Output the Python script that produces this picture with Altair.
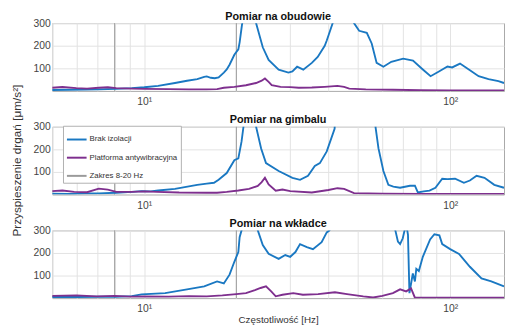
import altair as alt
import pandas as pd

# ---------------- data ----------------
panel_titles = ["Pomiar na obudowie", "Pomiar na gimbalu", "Pomiar na wkładce"]
series_names = ["Brak izolacji", "Platforma antywibracyjna", "Zakres 8-20 Hz"]
y_title = "Przyspieszenie drgań [μm/s²]"
x_title = "Częstotliwość [Hz]"
range_f = [8, 20]
x_grid = [5, 6, 7, 8, 9, 10, 20, 30, 40, 50, 60, 70, 80, 90, 100]
y_ticks = [100, 200, 300]

# Panel 1 - obudowa
p1_blue_f = [5.0, 5.7, 6.4, 7.1, 8.1, 9.1, 10.0, 11.1, 12.6, 13.8, 14.9, 15.7, 16.0, 16.5, 17.0, 17.5, 18.2, 18.6, 19.0, 19.7,
             20.3, 20.5, 20.9, 22.0, 22.6, 23.2, 24.4, 25.5, 27.5, 29.6, 30.5, 31.6, 33.1, 35.3, 36.9, 38.9, 39.5, 41.3, 42.5, 44.5,
             47.0, 48.5, 50.4, 53.4, 55.4, 57.5, 60.5, 64.2, 70.2, 75.6, 81.4, 86.3, 92.2, 98.0, 101.5, 107.7, 115.1, 123.9, 133.5, 143.8, 150.0]
p1_blue_v = [4, 5, 6, 7, 9, 12, 16, 22, 35, 45, 52, 62, 64, 58, 56, 60, 81, 95, 116, 160,
             184, 215, 300, 2000, 1500, 300, 193, 137, 94, 81, 86, 107, 94, 124, 150, 200, 223, 300, 600, 1500,
             600, 300, 266, 257, 210, 124, 107, 129, 143, 134, 95, 65, 87, 108, 104, 121, 95, 65, 52, 43, 35]
p1_pur_f = [5.0, 5.4, 6.0, 6.5, 7.1, 7.6, 8.1, 9.1, 10.0, 12.0, 14.0, 16.0, 17.3, 18.2, 19.7, 21.5, 23.2, 24.2, 24.8, 25.5,
            26.1, 27.9, 30.0, 32.0, 35.3, 38.9, 42.8, 45.0, 46.8, 53.0, 65.0, 80.0, 100.0, 150.0]
p1_pur_v = [14, 17, 12, 10, 14, 16, 12, 10, 9, 8, 7, 7, 8, 14, 18, 25, 35, 45, 55, 40,
            25, 18, 17, 14, 15, 18, 22, 18, 10, 7, 5, 3, 2, 2]

# Panel 2 - gimbal
p2_blue_f = [5.0, 5.7, 6.4, 7.1, 8.1, 9.1, 9.8, 10.5, 11.1, 12.6, 14.9, 16.0, 16.9, 17.5, 18.6, 19.7, 20.3, 20.8, 21.1, 22.0,
             22.6, 23.2, 24.1, 25.0, 27.5, 30.5, 32.3, 34.3, 36.1, 37.5, 39.5, 41.9, 43.0, 50.0, 55.0, 57.0, 58.3, 60.5, 62.8, 65.2,
             68.6, 73.9, 76.7, 78.4, 82.0, 85.6, 89.5, 94.2, 98.0, 103.8, 110.9, 116.0, 122.0, 129.5, 139.4, 150.0]
p2_blue_v = [4, 3, 5, 5, 8, 12, 15, 14, 18, 25, 43, 48, 52, 65, 95, 152, 160, 235, 300, 1800,
             1200, 300, 204, 139, 104, 74, 65, 83, 126, 139, 191, 291, 600, 2000, 700, 300, 204, 104, 43, 35,
             30, 39, 39, 9, 14, 17, 30, 70, 68, 70, 52, 62, 83, 74, 43, 30]
p2_pur_f = [5.0, 5.4, 5.9, 6.5, 7.1, 7.6, 8.1, 9.1, 10.0, 11.0, 13.0, 16.0, 17.3, 18.6, 20.3, 22.0, 23.5, 24.2, 24.8, 25.5,
            26.9, 28.3, 30.0, 35.3, 40.0, 42.8, 45.0, 48.5, 60.0, 80.0, 100.0, 150.0]
p2_pur_v = [15, 18, 12, 10, 26, 22, 12, 12, 14, 12, 9, 8, 8, 12, 18, 25, 38, 55, 74, 45,
            17, 22, 15, 9, 20, 28, 25, 6, 4, 3, 3, 3]

# Panel 3 - wkładka
p3_blue_f = [5.0, 6.0, 7.1, 8.1, 9.1, 9.8, 11.7, 13.8, 15.7, 17.3, 18.2, 19.0, 19.7, 20.3, 20.5, 20.8, 21.5, 22.8, 23.5, 24.4,
             25.5, 27.5, 28.9, 30.0, 31.2, 32.3, 34.0, 35.6, 38.0, 39.5, 40.3, 45.0, 55.0, 62.0, 66.2, 67.5, 68.6, 70.0, 71.8, 72.8,
             73.6, 75.5, 76.7, 77.5, 79.0, 81.4, 86.0, 88.8, 92.2, 94.2, 100.0, 106.9, 116.0, 126.6, 136.3, 150.0]
p3_blue_v = [5, 5, 6, 6, 9, 17, 22, 39, 52, 74, 65, 104, 161, 204, 270, 300, 1500, 1000, 300, 235,
             196, 174, 191, 183, 204, 239, 226, 217, 248, 291, 300, 800, 1200, 700, 300, 250, 239, 265, 330, 280,
             22, 109, 74, 130, 120, 183, 260, 283, 278, 239, 217, 196, 139, 87, 74, 52]
p3_pur_f = [5.0, 6.0, 7.0, 8.0, 9.0, 10.0, 12.0, 14.0, 16.0, 18.0, 20.0, 21.5, 23.0, 24.0, 25.0, 26.0, 26.9, 28.3, 30.7, 33.0,
            37.0, 42.0, 46.0, 52.0, 56.0, 60.0, 65.0, 68.6, 71.8, 74.5, 76.7, 80.0, 100.0, 150.0]
p3_pur_v = [10, 12, 8, 10, 7, 8, 7, 9, 8, 12, 18, 22, 35, 45, 52, 30, 8, 15, 22, 15,
            18, 26, 18, 8, 3, 10, 22, 39, 30, 43, 2, 2, 2, 2]

# ---------------- style ----------------
FONT = "Liberation Sans"
COLORS = ["#1a78c2", "#7e2f8e", "#9a9a9a"]
W, H = 460, 69


def panel(title, bf, bv, pf, pv, show_legend, show_ytitle, show_xtitle):
    df = pd.DataFrame({
        "f": bf + pf,
        "v": bv + pv,
        "series": [series_names[0]] * len(bf) + [series_names[1]] * len(pf),
    })
    rules = pd.DataFrame({"f": range_f, "series": [series_names[2]] * len(range_f)})

    xscale = alt.Scale(type="log", domain=[5, 150], nice=False)
    yscale = alt.Scale(domain=[0, 300], nice=False)
    xaxis = alt.Axis(values=x_grid, grid=True, ticks=False, domain=False,
                     labelExpr="datum.value == 10 ? '10¹' : (datum.value == 100 ? '10²' : '')",
                     labelPadding=6, titlePadding=0.5)
    yaxis = alt.Axis(values=y_ticks, grid=True, ticks=False, domain=False, labelPadding=2)

    if show_legend:
        legend = alt.Legend(orient="none", legendX=11, legendY=-1,
                            symbolType="stroke", symbolSize=400, symbolStrokeWidth=2,
                            labelFontSize=8, labelFont=FONT, labelColor="#333333", labelLimit=300,
                            padding=3, rowPadding=3.5, labelOffset=2,
                            strokeColor="#b0b0b0", fillColor="white")
    else:
        legend = None

    color = alt.Color("series:N", scale=alt.Scale(domain=series_names, range=COLORS),
                      legend=legend, title=None)

    x_enc = alt.X("f:Q", scale=xscale, axis=xaxis, title=x_title if show_xtitle else None)
    y_enc = alt.Y("v:Q", scale=yscale, axis=yaxis, title=None)

    rule = alt.Chart(rules).mark_rule(strokeWidth=1).encode(x=x_enc, color=color)
    lines = alt.Chart(df).mark_line(strokeWidth=1.9, clip=True).encode(
        x=x_enc, y=y_enc, color=color, detail="series:N")

    ttl = alt.Chart(pd.DataFrame({"t": [title]})).mark_text(
        font=FONT, fontSize=11, fontWeight="bold", color="#111111",
        align="center", baseline="alphabetic"
    ).encode(text="t:N", x=alt.value(W / 2), y=alt.value(-3.5))

    layers = [rule, lines, ttl]
    if show_ytitle:
        yt = alt.Chart(pd.DataFrame({"t": [y_title]})).mark_text(
            font=FONT, fontSize=12, color="#333333", angle=270,
            align="center", baseline="middle"
        ).encode(text="t:N", x=alt.value(-36), y=alt.value(H / 2))
        layers.append(yt)

    return alt.layer(*layers).properties(width=W, height=H)


c1 = panel(panel_titles[0], p1_blue_f, p1_blue_v, p1_pur_f, p1_pur_v, False, False, False)
c2 = panel(panel_titles[1], p2_blue_f, p2_blue_v, p2_pur_f, p2_pur_v, True, True, False)
c3 = panel(panel_titles[2], p3_blue_f, p3_blue_v, p3_pur_f, p3_pur_v, False, False, True)

chart = alt.vconcat(c1, c2, c3, spacing=36.5, bounds="flush").resolve_legend(
    color="independent"
).properties(
    padding={"left": 2, "top": -0.5, "right": 0, "bottom": 0}
).configure_view(
    stroke="#a8a8a8", strokeWidth=1
).configure_axis(
    gridColor="#e2e2e2", gridWidth=1,
    labelFont=FONT, titleFont=FONT, labelFontSize=10.5, titleFontSize=10,
    labelColor="#444444", titleColor="#333333", titleFontWeight="normal",
)

chart.save("out.html", embed_options={"renderer": "svg", "actions": False})
